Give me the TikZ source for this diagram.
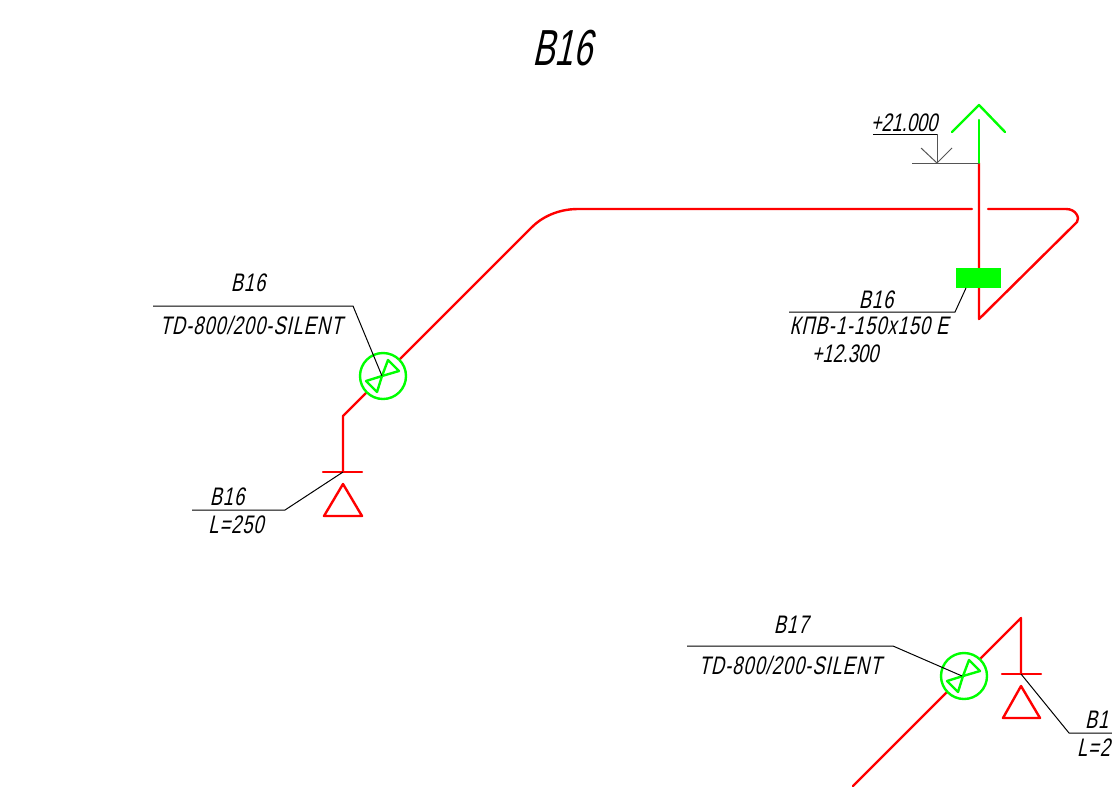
\documentclass[tikz,border=0pt]{standalone}
\usepackage{fontspec}
\setmainfont{Liberation Sans}[FakeSlant=0.22,FakeStretch=0.72]
\newfontfamily\lblfam{Liberation Sans}[FakeSlant=0.22,FakeStretch=0.72,LetterSpace=4]
\newfontfamily\ttlfam{Liberation Sans}[FakeSlant=0.22,FakeStretch=0.66]
\tikzset{
 x=0.75pt,y=-0.75pt,
 pipe/.style={draw={rgb,255:red,255;green,0;blue,0},line width=1.8pt,line join=round,line cap=round},
 green line/.style={draw={rgb,255:red,0;green,255;blue,0},line width=1.8pt,line join=round,line cap=round},
 leader/.style={draw=black,line width=0.75pt,line join=miter},
 level/.style={draw={rgb,255:red,85;green,85;blue,85},line width=0.75pt},
 lbl/.style={inner sep=0pt,outer sep=0pt,text=black,font=\lblfam\fontsize{19}{22}\selectfont},
 num/.style={inner sep=0pt,outer sep=0pt,text=black,font=\fontsize{19}{22}\selectfont},
 ttl/.style={inner sep=0pt,outer sep=0pt,text=black,font=\ttlfam\fontsize{38}{44}\selectfont}
}
\newcommand{\valve}[3]{% name, cx, cy
 \begin{scope}[shift={(#2,#3)}]
  \node[circle,green line,fill=white,minimum size=34.5pt,inner sep=0pt] (#1) at (0,0) {};
  \draw[green line] (-1,0) -- (5,-16) -- (16,-5) -- (-1,0);
  \draw[green line] (-1,0) -- (-17,5) -- (-6,16) -- cycle;
 \end{scope}}
\begin{document}
\begin{tikzpicture}
\useasboundingbox (0,0) rectangle (1112,786);
\clip (0,0) rectangle (1112,786);
% --- points
\coordinate (a0) at (343,472);
\coordinate (a1) at (343,416);
\coordinate (a2) at (367,392);
\coordinate (a3) at (393,366);
\coordinate (a4) at (532,227);
\coordinate (a5) at (578,209);
\coordinate (a6) at (972,209);
\coordinate (a7) at (988,209);
\coordinate (a8) at (1066,209);
\coordinate (a9) at (1077,222);
\coordinate (a10) at (979,319);
\coordinate (a11) at (979,163);
\coordinate (a12) at (979,120);
\coordinate (ar) at (979,105);
\coordinate (arl) at (952,132);
\coordinate (arr) at (1005,132);
% --- B16 pipe
\draw[pipe] (a0) -- (a1) -- (a2);
\draw[pipe] (a3) -- (a4) .. controls (541,218) and (557,209) .. (a5) -- (a6);
\draw[pipe] (a7) -- (a8) .. controls (1076,209) and (1080,218) .. (a9) -- (a10) -- (a11);
\draw[green line] (a11) -- (a12);
\draw[green line] (arl) -- (ar) -- (arr);
% --- level mark
\coordinate (l0) at (912,163);
\coordinate (l1) at (937,163);
\coordinate (l2) at (937,134);
\coordinate (l3) at (873,134);
\coordinate (l4) at (921,148);
\coordinate (l5) at (952,148);
\draw[level] (l0) -- (a11);
\draw[level] (l1) -- (l2);
\draw[level] (l4) -- (l1) -- (l5);
\draw[leader] (l3) -- (l2);
\node[num] (t1) at (904,123) {+21.000};
% --- damper
\node[fill={rgb,255:red,0;green,255;blue,0},minimum width=33.75pt,minimum height=15pt,inner sep=0pt] (dmp) at (978.5,278) {};
\coordinate (d0) at (966,288);
\coordinate (d1) at (955,312);
\coordinate (d2) at (789,312);
\draw[leader] (d0) -- (d1) -- (d2);
\node[lbl] (t2) at (876,300) {B16};
\node[lbl] (t3) at (869,326) {КПВ-1-150х150 Е};
\node[num] (t4) at (845,354) {+12.300};
% --- B16 valve
\valve{v1}{383}{376}
\coordinate (v0) at (382,376);
\coordinate (v2) at (353,306);
\coordinate (v3) at (153,306);
\draw[leader] (v3) -- (v2) -- (v0);
\node[lbl] (t5) at (248,283) {B16};
\node[lbl] (t6) at (251,325) {TD-800/200-SILENT};
% --- B16 lower terminal
\coordinate (s1) at (323,472);
\coordinate (s2) at (362,472);
\draw[pipe] (s1) -- (s2);
\draw[pipe] (343,484) -- (324,516) -- (362,516) -- cycle;
\coordinate (e1) at (285,510);
\coordinate (e2) at (192,510);
\draw[leader] (a0) -- (e1) -- (e2);
\node[lbl] (t7) at (227,497) {B16};
\node[lbl] (t8) at (236,525) {L=250};
% --- title
\node[ttl] (title) at (562,48) {B16};
% --- B17
\coordinate (b0) at (853,786);
\coordinate (b1) at (947,692);
\coordinate (b2) at (980,659);
\coordinate (b3) at (1021,618);
\coordinate (b4) at (1021,674);
\draw[pipe] (b0) -- (b1);
\draw[pipe] (b2) -- (b3) -- (b4);
\valve{v4}{964}{676}
\coordinate (b5) at (962,676);
\coordinate (b6) at (893,646);
\coordinate (b7) at (687,646);
\draw[leader] (b7) -- (b6) -- (b5);
\node[lbl] (t9) at (791,625) {B17};
\node[lbl] (t10) at (790,665) {TD-800/200-SILENT};
\coordinate (s3) at (1002,674);
\coordinate (s4) at (1041,674);
\draw[pipe] (s3) -- (s4);
\draw[pipe] (1021,686) -- (1003,718) -- (1040,718) -- cycle;
\coordinate (e3) at (1069,733);
\coordinate (e4) at (1112,733);
\draw[leader] (b4) -- (e3) -- (e4);
\node[lbl,anchor=west] (t11) at (1085,720) {B17};
\node[lbl,anchor=west] (t12) at (1077,748) {L=250};
\end{tikzpicture}
\end{document}
